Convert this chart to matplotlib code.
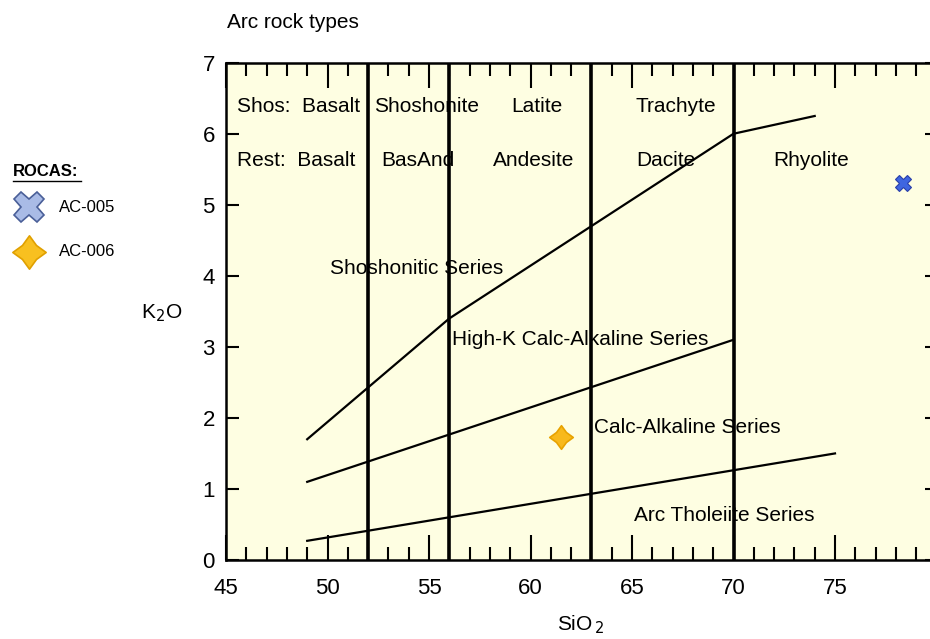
import matplotlib
matplotlib.use("Agg")
import matplotlib.pyplot as plt
from matplotlib.lines import Line2D
from matplotlib.path import Path
from matplotlib.ticker import MultipleLocator

plt.rcParams['font.family'] = ['Liberation Sans', 'DejaVu Sans']

# ---- data ----
div_x = [52, 56, 63, 70]
shos_x = [49, 56, 70, 74]
shos_y = [1.7, 3.4, 6.0, 6.25]
hik_x = [49, 70]
hik_y = [1.1, 3.1]
thol_x = [49, 75]
thol_y = [0.27, 1.5]

samples = ['AC-005', 'AC-006']
sample_sio2 = [78.35, 61.5]
sample_k2o = [5.31, 1.73]

rock_row1 = [('Shos:  Basalt', 45.54), ('Shoshonite', 52.29)]
rock_row1c = [('Latite', 60.3), ('Trachyte', 67.15)]
rock_row2 = [('Rest:  Basalt', 45.54), ('BasAnd', 52.63), ('Andesite', 58.15),
             ('Dacite', 65.2), ('Rhyolite', 71.95)]
series_labels = [('Shoshonitic Series', 50.12, 4.11),
                 ('High-K Calc-Alkaline Series', 56.13, 3.10),
                 ('Calc-Alkaline Series', 63.13, 1.86),
                 ('Arc Tholeiite Series', 65.1, 0.62)]

# 4-point star marker (rounded diamond-like)
r = 0.42
star = Path([(0, 1), (r, r), (1, 0), (r, -r), (0, -1), (-r, -r), (-1, 0), (-r, r), (0, 1)],
            [Path.MOVETO] + [Path.LINETO] * 7 + [Path.CLOSEPOLY])

fig = plt.figure(figsize=(9.3, 6.39), dpi=100)
W, H = 930, 639
ax = fig.add_axes([226 / W, (H - 560) / H, (936.5 - 226) / W, (560 - 62.7) / H])
ax.set_facecolor('#fefee2')
ax.set_xlim(45, 80)
ax.set_ylim(0, 7)

for x in div_x:
    ax.plot([x, x], [0, 7], color='black', lw=2.6, zorder=2)
ax.plot(shos_x, shos_y, color='black', lw=1.6, zorder=2)
ax.plot(hik_x, hik_y, color='black', lw=1.6, zorder=2)
ax.plot(thol_x, thol_y, color='black', lw=1.6, zorder=2)

fs = 15
for t, x in rock_row1:
    ax.text(x, 6.39, t, fontsize=fs, ha='left', va='center', zorder=3)
for t, x in rock_row1c:
    ax.text(x, 6.39, t, fontsize=fs, ha='center', va='center', zorder=3)
for t, x in rock_row2:
    ax.text(x, 5.63, t, fontsize=fs, ha='left', va='center', zorder=3)
for t, x, y in series_labels:
    ax.text(x, y, t, fontsize=fs, ha='left', va='center', zorder=3)

# samples
ax.plot(sample_sio2[0], sample_k2o[0], marker='X', ms=11, mfc='#3f66e0',
        mec='#2a3fa8', mew=0.8, ls='none', zorder=4)
ax.plot(sample_sio2[1], sample_k2o[1], marker=star, ms=17, mfc='#f8b91c',
        mec='#e8a200', mew=1.2, ls='none', zorder=4)

# ticks
ax.set_xticks([45, 50, 55, 60, 65, 70, 75])
ax.xaxis.set_minor_locator(MultipleLocator(1))
ax.set_yticks(range(0, 8))
ax.tick_params(axis='both', which='both', direction='in', top=True, right=True,
               labelsize=16, width=1.5, color='black')
ax.tick_params(axis='x', which='major', length=18, pad=13)
ax.tick_params(axis='x', which='minor', length=9.5)
ax.tick_params(axis='y', which='major', length=9, pad=8)
for s in ax.spines.values():
    s.set_linewidth(1.8)
    s.set_color('black')

fig.text(581 / W, 1 - 625 / H, 'SiO$_{\\,2}$', fontsize=fs, ha='center', va='center')
fig.text(162 / W, 1 - 313 / H, 'K$_2$O', fontsize=fs, ha='center', va='center')
fig.text(227 / W, 1 - 22 / H, 'Arc rock types', fontsize=fs, ha='left', va='center')

# legend
fig.text(13 / W, 1 - 172 / H, 'ROCAS:', fontsize=12, fontweight='bold', ha='left', va='center')
fig.add_artist(Line2D([13 / W, 81 / W], [1 - 181 / H, 1 - 181 / H], color='black', lw=1.0))
fig.add_artist(Line2D([29 / W], [1 - 207 / H], marker='X', ms=22, mfc='#a9bbe6',
                      mec='#4a5f98', mew=1.2, ls='none'))
fig.add_artist(Line2D([29 / W], [1 - 252 / H], marker=star, ms=24, mfc='#f8c020',
                      mec='#e0a000', mew=1.2, ls='none'))
fig.text(59 / W, 1 - 207 / H, samples[0], fontsize=12, ha='left', va='center')
fig.text(59 / W, 1 - 252 / H, samples[1], fontsize=12, ha='left', va='center')

fig.savefig('out.png', dpi=100)
